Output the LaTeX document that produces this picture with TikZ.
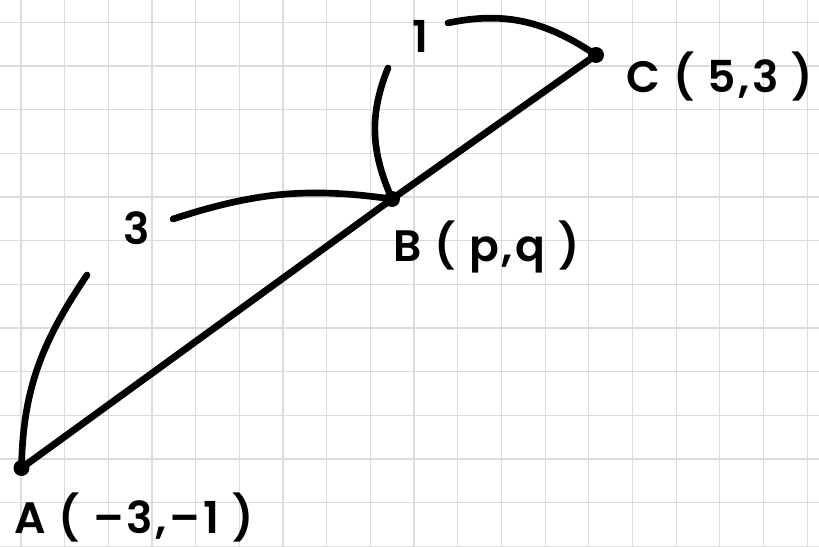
\documentclass[tikz,border=0pt]{standalone}
\usepackage{fontspec}
\setmainfont{Poppins}[LetterSpace=6,BoldFont={Poppins SemiBold}]
\usepackage{tikz}
\usetikzlibrary{calc}
\tikzset{
sgline/.style={line width=5.2pt,line cap=round},
sgarc/.style={line width=5pt,line cap=round},
sgdot/.style={circle,fill=black,inner sep=0pt,minimum size=12pt},
sggrid/.style={draw=black!14,line width=0.8pt},
sglabel/.style={font=\fontsize{33}{36}\selectfont\bfseries,inner sep=0pt,anchor=base west},
sgnum/.style={font=\fontsize{33}{36}\selectfont\bfseries,inner sep=0pt,anchor=base west}
}
\begin{document}
\begin{tikzpicture}[
x=0.75pt,
y=0.75pt
]
\useasboundingbox (0,0) rectangle (819,547);
\begin{scope}
\clip (0,0) rectangle (819,547);
\foreach \i in {-1,...,18}
  \draw[sggrid] (21+43.67*\i,0) -- ++(0,547);
\foreach \j in {-1,...,12}
  \draw[sggrid] (0,524.7-43.67*\j) -- ++(819,0);
\end{scope}
% points on the line
\node[sgdot] (ptA) at (21.5,79) {};
\node[sgdot] (ptB) at (392,348) {};
\node[sgdot] (ptC) at (596,492) {};
\draw[sgline] (ptA.center)--(ptB.center)--(ptC.center);
% arc ends
\coordinate (arcAend) at (87,272);
\coordinate (arcBstart) at (173,328);
\coordinate (arcCend) at (388,479);
\coordinate (arcDstart) at (448,524);
\draw[sgarc] (ptA.center) to[out=89,in=236] (arcAend);
\draw[sgarc] (arcBstart) to[out=18,in=172] (ptB.center);
\draw[sgarc] (ptB.center) to[out=114,in=248] (arcCend);
\draw[sgarc] (arcDstart) to[out=12,in=146] (ptC.center);
% labels
\node[sglabel] (labA) at (14,13) {A ( –3,–1 )};
\node[sglabel] (labB) at (393,285) {B ( p,q )};
\node[sglabel] (labC) at (626,454) {C ( 5,3 )};
\node[sgnum] (labAB) at (123,302) {3};
\node[sgnum] (labBC) at (412,494) {1};
\end{tikzpicture}
\end{document}
